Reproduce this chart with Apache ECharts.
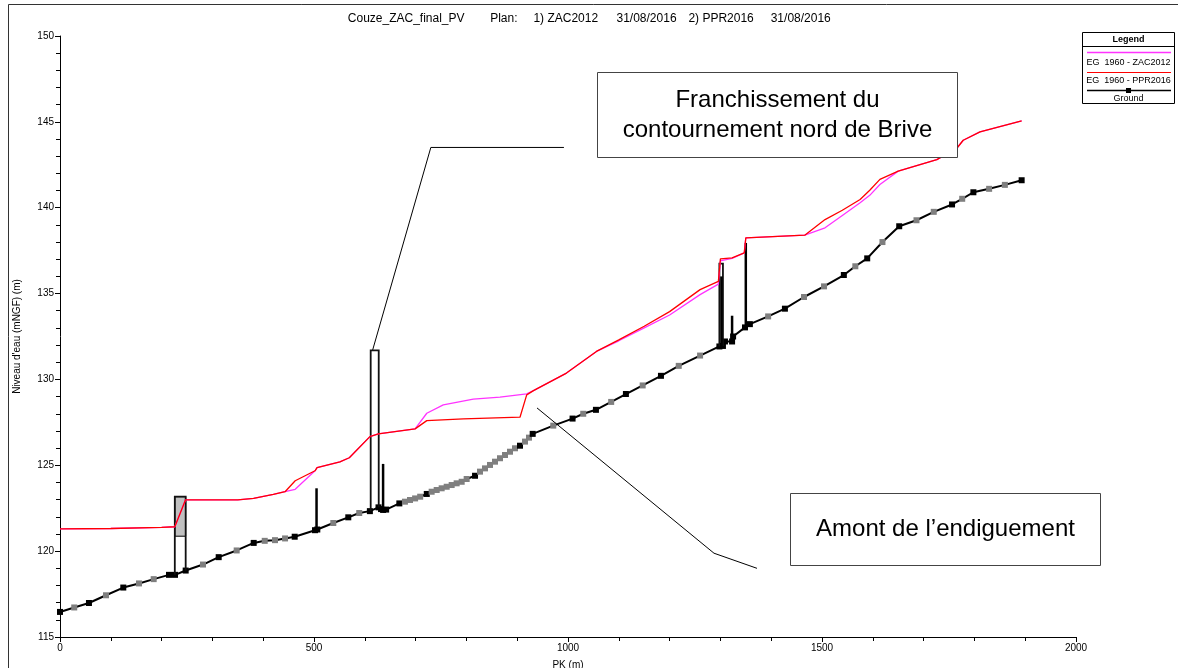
<!DOCTYPE html>
<html><head><meta charset="utf-8">
<script src="https://cdn.jsdelivr.net/npm/echarts@6.0.0/dist/echarts.min.js"></script>
<style>html,body{margin:0;padding:0;background:#fff;overflow:hidden}#c{width:1178px;height:668px}</style>
</head><body><div id="c"></div>
<script>
// ---------- DATA ----------
const groundPK = [0,28,57,90.5,124.6,155.5,184.4,214.6,226.4,247.4,281.5,312.4,347.8,381.3,403,423.2,443,462,502,506.5,538,567.5,589,610,627,632,636,642,668,679,689,699,709,722,731.6,741.5,751.3,761.2,771,780.8,790.7,800.5,817,826.8,836.6,846.5,856.3,866.1,876,885.8,895.7,905.5,915.4,923.2,930.5,971,1009,1030,1055,1085,1114,1147,1183,1218,1260,1298,1305,1309,1323,1325,1348.4,1358,1394,1427,1464.6,1504,1543,1565.6,1589,1619,1652,1686,1720,1756,1776,1798,1829,1860,1893];
const groundZ = [116.46,116.72,116.98,117.43,117.88,118.12,118.37,118.62,118.62,118.87,119.22,119.65,120.04,120.48,120.6,120.64,120.74,120.84,121.22,121.26,121.64,121.97,122.22,122.33,122.55,122.45,122.4,122.42,122.78,122.88,122.98,123.07,123.17,123.33,123.46,123.56,123.66,123.75,123.85,123.95,124.04,124.2,124.39,124.63,124.82,125.02,125.21,125.41,125.6,125.79,125.99,126.14,126.38,126.61,126.83,127.31,127.72,128.0,128.23,128.69,129.15,129.65,130.21,130.79,131.39,131.92,131.95,132.21,132.21,132.5,133.03,133.22,133.67,134.12,134.8,135.42,136.08,136.59,137.05,138.0,138.92,139.27,139.76,140.19,140.52,140.9,141.1,141.33,141.6];
// 1 = interpolated cross-section (grey marker), 0 = surveyed (black marker)
const groundInterp = [0,1,0,1,0,1,1,0,0,0,1,0,1,0,1,1,1,0,0,0,1,0,1,0,0,0,0,0,0,1,1,1,1,0,1,1,1,1,1,1,1,1,0,1,1,1,1,1,1,1,1,0,1,1,0,1,0,1,0,1,0,1,0,1,1,0,0,0,0,0,0,0,1,0,1,1,0,1,0,1,0,1,1,0,1,0,1,1,0];

const zacPK = [0,100,200,226,247,350,381,420,443,463,502,506,551,569.5,610,626.6,699,722,754.5,813.6,866,918.7,932,997,1056,1100,1150,1200,1260,1296,1300,1323,1347,1350,1466,1506,1540,1575,1594,1614,1650,1726,1765,1778,1811,1893];
const zacZ  = [121.3,121.32,121.38,121.42,122.98,122.98,123.07,123.3,123.46,123.6,124.68,124.86,125.2,125.44,126.67,126.83,127.12,128.03,128.52,128.85,128.97,129.16,129.35,130.37,131.63,132.25,133.0,133.75,134.94,135.55,136.9,137.05,137.37,138.24,138.4,138.83,139.55,140.29,140.72,141.35,142.13,142.8,143.45,143.93,144.42,145.06];

const pprPK = [0,100,200,226,247,350,381,420,443,463,502,506,551,569.5,610,626.6,699,722,794,905.5,918.7,932,997,1056,1100,1150,1200,1260,1296,1300,1323,1347,1350,1466,1506,1540,1575,1594,1614,1650,1726,1765,1778,1811,1893];
const pprZ  = [121.3,121.32,121.38,121.42,122.98,122.98,123.07,123.3,123.46,124.1,124.68,124.86,125.2,125.44,126.67,126.83,127.12,127.6,127.7,127.8,129.1,129.35,130.37,131.63,132.3,133.1,133.95,135.23,135.71,137.02,137.08,137.37,138.24,138.4,139.31,139.85,140.48,141.02,141.65,142.13,142.8,143.45,143.93,144.42,145.06];

// bridges: [pkLeft, pkRight, groundLeft, groundRight, deck]
const bridges = [
  [226, 247.4, 118.62, 118.87, 123.17],
  [611.6, 627.4, 122.33, 122.55, 131.69],
  [1298, 1305, 131.92, 131.95, 136.74]
];
// deck (filled part): [pkLeft, pkRight, soffit, deck]
const decks = [[226, 247.4, 120.87, 123.17]];
// piers / weirs: [pk, base, top]
const piers = [[505, 121.26, 123.66],[636, 122.4, 125.08],[1302, 131.92, 136.0],[1323, 132.21, 133.71],[1350, 133.03, 137.95]];

// annotations
const noteBoxes = [[1057, 147.89, 1766, 142.93],[1437, 123.38, 2047, 119.18]];
const noteTexts = ['Franchissement du\ncontournement nord de Brive', 'Amont de l\u2019endiguement'];
const leader1 = [[992, 143.51],[730, 143.51],[615.5, 131.72]];
const leader2 = [[939, 128.34],[1287.4, 119.88],[1372, 119.0]];

const xTicks = [0, 500, 1000, 1500, 2000];
const yTicks = [115, 120, 125, 130, 135, 140, 145, 150];
const titleParts = ['Couze_ZAC_final_PV', 'Plan:', '1) ZAC2012', '31/08/2016', '2) PPR2016', '31/08/2016'];
const legendNames = ['EG  1960 - ZAC2012', 'EG  1960 - PPR2016', 'Ground'];

// ---------- CHART ----------
const FONT = '"Liberation Sans", Arial, sans-serif';
const zip = (a, b) => a.map((v, i) => [v, b[i]]);
const groundData = groundPK.map((x, i) => ({
  value: [x, groundZ[i]],
  itemStyle: { color: groundInterp[i] ? '#7f7f7f' : '#000' }
}));

const chart = echarts.init(document.getElementById('c'), null, { renderer: 'canvas', width: 1178, height: 668 });

const titleX = [347.8, 490.2, 533.4, 616.5, 688.4, 770.7];
const graphics = [
  { type: 'rect', shape: { x: 8.5, y: 4.5, width: 1300, height: 800 }, style: { fill: null, stroke: '#333', lineWidth: 1 }, z: 0, silent: true }
];
titleParts.forEach((t, i) => graphics.push({
  type: 'text', x: titleX[i], y: 19, style: { text: t, font: '12px ' + FONT, fill: '#000', verticalAlign: 'middle' }, z: 100
}));
// legend box
const LX = 1082.5, LY = 32.5, LW = 92, LH = 71, LC = 1128.5;
graphics.push(
  { type: 'rect', shape: { x: LX, y: LY, width: LW, height: LH }, style: { fill: '#fff', stroke: '#000', lineWidth: 1 }, z: 100 },
  { type: 'text', x: LC, y: 40, style: { text: 'Legend', font: 'bold 9px ' + FONT, fill: '#000', align: 'center', verticalAlign: 'middle' }, z: 101 },
  { type: 'line', shape: { x1: LX, y1: 46.5, x2: LX + LW, y2: 46.5 }, style: { stroke: '#000', lineWidth: 1 }, z: 101 },
  { type: 'line', shape: { x1: 1087, y1: 52.5, x2: 1171, y2: 52.5 }, style: { stroke: '#ff33ff', lineWidth: 1.5 }, z: 101 },
  { type: 'text', x: LC, y: 62.5, style: { text: legendNames[0], font: '9px ' + FONT, fill: '#000', align: 'center', verticalAlign: 'middle' }, z: 101 },
  { type: 'line', shape: { x1: 1087, y1: 72.5, x2: 1171, y2: 72.5 }, style: { stroke: '#ff0000', lineWidth: 1.2 }, z: 101 },
  { type: 'text', x: LC, y: 80.5, style: { text: legendNames[1], font: '9px ' + FONT, fill: '#000', align: 'center', verticalAlign: 'middle' }, z: 101 },
  { type: 'line', shape: { x1: 1087, y1: 90.5, x2: 1171, y2: 90.5 }, style: { stroke: '#000', lineWidth: 1.5 }, z: 101 },
  { type: 'rect', shape: { x: 1126, y: 88, width: 5, height: 5 }, style: { fill: '#000' }, z: 101 },
  { type: 'text', x: LC, y: 98.5, style: { text: legendNames[2], font: '9px ' + FONT, fill: '#000', align: 'center', verticalAlign: 'middle' }, z: 101 }
);

const axisCommon = {
  axisLine: { show: true, lineStyle: { color: '#000', width: 1 } },
  axisTick: { show: true, inside: false, length: 5, lineStyle: { color: '#000' } },
  minorTick: { show: true, splitNumber: 5, length: 4, lineStyle: { color: '#000' } },
  splitLine: { show: false },
  minorSplitLine: { show: false }
};

chart.setOption({
  animation: false,
  backgroundColor: '#fff',
  grid: { left: 60, top: 36, width: 1016, height: 601, containLabel: false, outerBoundsMode: 'none' },
  xAxis: Object.assign({
    type: 'value', min: xTicks[0], max: xTicks[xTicks.length - 1], interval: xTicks[1] - xTicks[0],
    name: 'PK (m)', nameLocation: 'middle', nameGap: 23,
    nameTextStyle: { fontFamily: FONT, fontSize: 10, color: '#000', verticalAlign: 'top' },
    axisLabel: { fontFamily: FONT, fontSize: 10, color: '#000', margin: 6, formatter: v => String(v) }
  }, axisCommon),
  yAxis: Object.assign({
    type: 'value', min: yTicks[0], max: yTicks[yTicks.length - 1], interval: yTicks[1] - yTicks[0],
    name: "Niveau d'eau (mNGF) (m)", nameLocation: 'middle', nameGap: 38, nameRotate: 90,
    nameTextStyle: { fontFamily: FONT, fontSize: 10, color: '#000' },
    axisLabel: { fontFamily: FONT, fontSize: 10, color: '#000', margin: 6, formatter: v => String(v) }
  }, axisCommon),
  graphic: graphics,
  series: [
    {
      name: 'Ground', type: 'line', data: groundData, z: 3,
      symbol: 'rect', symbolSize: 6, showAllSymbol: true,
      lineStyle: { color: '#000', width: 2 }, silent: true
    },
    {
      name: 'decks', type: 'custom', z: 4, silent: true, data: decks,
      renderItem: (p, api) => {
        const a = api.coord([api.value(0), api.value(3)]);
        const b = api.coord([api.value(1), api.value(2)]);
        return { type: 'rect', shape: { x: a[0], y: a[1], width: b[0] - a[0], height: b[1] - a[1] },
          style: { fill: '#c0c0c0', stroke: '#000', lineWidth: 1 } };
      }
    },
    {
      name: 'bridges', type: 'custom', z: 4, silent: true, data: bridges,
      renderItem: (p, api) => {
        const x0 = api.value(0), x1 = api.value(1);
        const pts = [api.coord([x0, api.value(2)]), api.coord([x0, api.value(4)]), api.coord([x1, api.value(4)]), api.coord([x1, api.value(3)])];
        return { type: 'polyline', shape: { points: pts }, style: { stroke: '#111', fill: null, lineWidth: 1.8 } };
      }
    },
    {
      name: 'piers', type: 'custom', z: 4, silent: true, data: piers,
      renderItem: (p, api) => {
        const a = api.coord([api.value(0), api.value(1)]);
        const b = api.coord([api.value(0), api.value(2)]);
        return { type: 'line', shape: { x1: a[0], y1: a[1], x2: b[0], y2: b[1] }, style: { stroke: '#000', lineWidth: 2.5 } };
      }
    },
    {
      name: legendNames[0], type: 'line', data: zip(zacPK, zacZ), z: 5, symbol: 'none',
      lineStyle: { color: '#ff33ff', width: 1.3 }, silent: true
    },
    {
      name: legendNames[1], type: 'line', data: zip(pprPK, pprZ), z: 6, symbol: 'none',
      lineStyle: { color: '#ff0000', width: 1.3 }, silent: true
    },
    {
      name: 'leader1', type: 'line', data: leader1, z: 7, symbol: 'none', clip: false,
      lineStyle: { color: '#000', width: 1 }, silent: true
    },
    {
      name: 'leader2', type: 'line', data: leader2, z: 7, symbol: 'none', clip: false,
      lineStyle: { color: '#000', width: 1 }, silent: true
    },
    {
      name: 'notes', type: 'custom', z: 10, silent: true, clip: false, data: noteBoxes,
      renderItem: (p, api) => {
        const a = api.coord([api.value(0), api.value(1)]);
        const b = api.coord([api.value(2), api.value(3)]);
        const x = Math.round(a[0]) + 0.5, y = Math.round(a[1]) + 0.5;
        const w = Math.round(b[0] - a[0]), h = Math.round(b[1] - a[1]);
        return { type: 'group', children: [
          { type: 'rect', shape: { x, y, width: w, height: h }, style: { fill: '#fff', stroke: '#444', lineWidth: 1 } },
          { type: 'text', x: x + w / 2, y: y + h / 2, style: { text: noteTexts[p.dataIndex], font: '24px ' + FONT, fill: '#000', align: 'center', verticalAlign: 'middle', lineHeight: 30 } }
        ] };
      }
    }
  ]
});
</script></body></html>
